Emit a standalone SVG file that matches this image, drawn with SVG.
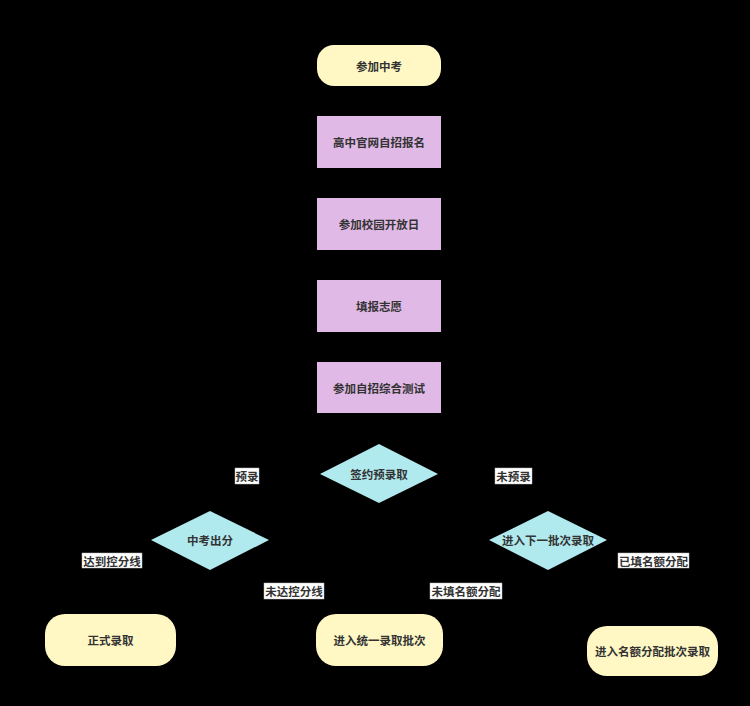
<svg xmlns="http://www.w3.org/2000/svg" width="750" height="706" viewBox="0 0 750 706">
<defs>
<style>
.t{font-family:"Noto Sans CJK SC","Liberation Sans",sans-serif;font-size:11.5px;font-weight:bold;fill:#333;text-anchor:middle;dominant-baseline:central}
.y{fill:#fff8c4}
.p{fill:#e0b9e6}
.c{fill:#b0e9ee}
.e{fill:none;stroke:#000;stroke-width:1.5}
.lb{fill:#fff;stroke:#bbb;stroke-width:0.5}
</style>
<marker id="ar" markerWidth="8" markerHeight="8" refX="7" refY="4" orient="auto" markerUnits="userSpaceOnUse">
<path d="M0,0 L8,4 L0,8 Z" fill="#000"/>
</marker>
</defs>
<rect width="750" height="706" fill="#000"/>
<g id="connectors">
<path class="e" d="M379,86 V116" marker-end="url(#ar)"/>
<path class="e" d="M379,168 V198" marker-end="url(#ar)"/>
<path class="e" d="M379,250 V280" marker-end="url(#ar)"/>
<path class="e" d="M379,332 V362" marker-end="url(#ar)"/>
<path class="e" d="M379,413 V444" marker-end="url(#ar)"/>
<path class="e" d="M320,474 H210 V511" marker-end="url(#ar)"/>
<path class="e" d="M438,474 H548 V511" marker-end="url(#ar)"/>
<path class="e" d="M151,540 H110 V614" marker-end="url(#ar)"/>
<path class="e" d="M210,570 V591 H379 V614" marker-end="url(#ar)"/>
<path class="e" d="M548,570 V591 H379 V614" marker-end="url(#ar)"/>
<path class="e" d="M607,540 H652 V626" marker-end="url(#ar)"/>
<g id="labels">
<rect class="lb" x="235" y="468" width="24" height="16"/><text class="t" x="247" y="476">预录</text>
<rect class="lb" x="495" y="468" width="37" height="16"/><text class="t" x="513.5" y="476">未预录</text>
<rect class="lb" x="82" y="553" width="60" height="15"/><text class="t" x="112" y="560.5">达到控分线</text>
<rect class="lb" x="264" y="583" width="60" height="16"/><text class="t" x="294" y="591">未达控分线</text>
<rect class="lb" x="430" y="583" width="72" height="16"/><text class="t" x="466" y="591">未填名额分配</text>
<rect class="lb" x="618" y="553" width="71" height="15"/><text class="t" x="653.5" y="560.5">已填名额分配</text>
</g>
</g>
<g id="n1"><rect class="y" x="317" y="45" width="124" height="41" rx="17"/><text class="t" x="379" y="65.5">参加中考</text></g>
<g id="n2"><rect class="p" x="317" y="116" width="124" height="52"/><text class="t" x="379" y="142">高中官网自招报名</text></g>
<g id="n3"><rect class="p" x="317" y="198" width="124" height="52"/><text class="t" x="379" y="224">参加校园开放日</text></g>
<g id="n4"><rect class="p" x="317" y="280" width="124" height="52"/><text class="t" x="379" y="306">填报志愿</text></g>
<g id="n5"><rect class="p" x="317" y="362" width="124" height="51"/><text class="t" x="379" y="387.5">参加自招综合测试</text></g>
<g id="d1"><path class="c" d="M379,444 L438,474 L379,503 L320,474 Z"/><text class="t" x="379" y="474">签约预录取</text></g>
<g id="d2"><path class="c" d="M210,511 L269,540 L210,570 L151,540 Z"/><text class="t" x="210" y="540">中考出分</text></g>
<g id="d3"><path class="c" d="M548,511 L607,540 L548,570 L489,540 Z"/><text class="t" x="548" y="540">进入下一批次录取</text></g>
<g id="r1"><rect class="y" x="45" y="614" width="131" height="52" rx="20"/><text class="t" x="110.5" y="640">正式录取</text></g>
<g id="r2"><rect class="y" x="316" y="614" width="127" height="52" rx="20"/><text class="t" x="379.5" y="640">进入统一录取批次</text></g>
<g id="r3"><rect class="y" x="587" y="626" width="131" height="50" rx="20"/><text class="t" x="652.5" y="651">进入名额分配批次录取</text></g>
</svg>
